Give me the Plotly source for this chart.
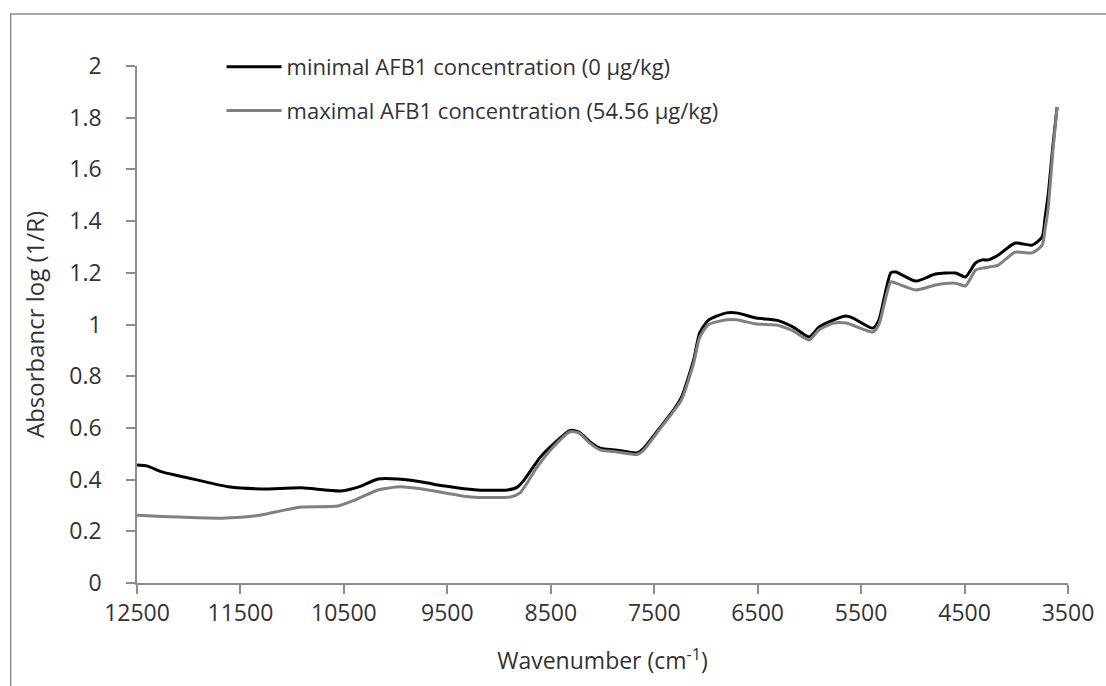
import plotly.graph_objects as go

# NIR spectra: wavenumber (cm-1) vs absorbance log(1/R)
wn_min = [12500, 12400, 12259, 12100, 11932, 11614, 11297, 10912, 10527, 10334,
          10170, 9978, 9689, 9593, 9208, 8919, 8823, 8755, 8601, 8467, 8313,
          8226, 8120, 8024, 7860, 7668, 7600, 7446, 7312, 7235, 7119, 7061,
          6975, 6801, 6705, 6513, 6320, 6156, 6002, 5906, 5771, 5646, 5578,
          5386, 5328, 5213, 5165, 4972, 4780, 4587, 4491, 4395, 4327, 4270,
          4173, 4010, 3846, 3750, 3721, 3692, 3644, 3606]
abs_min = [0.456, 0.452, 0.430, 0.415, 0.400, 0.372, 0.364, 0.368, 0.356, 0.375,
           0.402, 0.402, 0.387, 0.379, 0.360, 0.360, 0.371, 0.400, 0.487, 0.540, 0.590,
           0.584, 0.546, 0.522, 0.514, 0.503, 0.522, 0.600, 0.670, 0.720, 0.863, 0.967,
           1.017, 1.045, 1.045, 1.025, 1.017, 0.990, 0.952, 0.990, 1.017, 1.033, 1.025,
           0.986, 1.017, 1.200, 1.203, 1.168, 1.195, 1.199, 1.184, 1.238, 1.250, 1.250,
           1.269, 1.315, 1.307, 1.339, 1.416, 1.500, 1.700, 1.840]

wn_max = [12500, 12300, 12096, 11643, 11297, 11100, 10912, 10556, 10392, 10170,
          9949, 9689, 9275, 8890, 8794, 8630, 8467, 8313, 8226, 8120, 8024,
          7860, 7668, 7600, 7446, 7312, 7235, 7119, 7061, 6975, 6801, 6705,
          6513, 6320, 6156, 6002, 5906, 5771, 5646, 5386, 5328, 5213, 5165,
          4972, 4780, 4587, 4491, 4395, 4327, 4270, 4173, 4010, 3846, 3750,
          3721, 3692, 3644, 3606]
abs_max = [0.262, 0.258, 0.255, 0.251, 0.263, 0.280, 0.294, 0.298, 0.321, 0.360,
           0.372, 0.360, 0.333, 0.333, 0.350, 0.450, 0.530, 0.585, 0.580, 0.540, 0.515,
           0.507, 0.497, 0.515, 0.595, 0.665, 0.710, 0.850, 0.950, 1.000, 1.018, 1.018,
           1.002, 0.998, 0.975, 0.940, 0.980, 1.005, 1.006, 0.971, 1.000, 1.165, 1.160,
           1.133, 1.153, 1.160, 1.149, 1.210, 1.218, 1.222, 1.230, 1.280, 1.277, 1.307,
           1.370, 1.450, 1.680, 1.840]

x_ticks = [12500, 11500, 10500, 9500, 8500, 7500, 6500, 5500, 4500, 3500]
y_ticks = [0, 0.2, 0.4, 0.6, 0.8, 1, 1.2, 1.4, 1.6, 1.8, 2]

FONT = "Open Sans"
TEXT = "#333333"
AXIS = "#8c8c8c"

fig = go.Figure()
fig.add_trace(go.Scatter(
    x=wn_min, y=abs_min, mode="lines",
    name="minimal AFB1 concentration (0 µg/kg)", legendgroup="a",
    line=dict(color="#000000", width=3, shape="spline", smoothing=0.6),
))
fig.add_trace(go.Scatter(
    x=wn_max, y=abs_max, mode="lines",
    name="maximal AFB1 concentration (54.56 µg/kg)", legendgroup="b",
    line=dict(color="#808080", width=3, shape="spline", smoothing=0.6),
))

W, H = 1106, 686
L, R, T, B = 137, 33, 66, 103
pw, ph = W - L - R, H - T - B


def px(x):
    return (x - L) / pw


def py(y):
    return (H - B - y) / ph


fig.update_layout(
    width=W, height=H,
    margin=dict(l=L, r=R, t=T, b=B),
    paper_bgcolor="white", plot_bgcolor="white",
    font=dict(family=FONT, size=22, color=TEXT),
    showlegend=True,
    legend=dict(
        x=px(222), y=py(46), xanchor="left", yanchor="top",
        bgcolor="rgba(0,0,0,0)", font=dict(size=22, color=TEXT),
        tracegroupgap=12, itemwidth=55,
    ),
    xaxis=dict(
        range=[12500, 3500], autorange=False,
        tickvals=x_ticks, ticktext=[str(v) for v in x_ticks],
        showgrid=False, zeroline=False,
        showline=True, linecolor=AXIS, linewidth=1.5,
        ticks="outside", ticklen=9, tickwidth=1.5, tickcolor=AXIS,
        tickfont=dict(size=23, color=TEXT),
        title=dict(text="Wavenumber (cm<sup>-1</sup>)", font=dict(size=23, color=TEXT), standoff=26),
    ),
    yaxis=dict(
        range=[0, 2], autorange=False,
        tickvals=y_ticks, ticktext=["0", "0.2", "0.4", "0.6", "0.8", "1", "1.2", "1.4", "1.6", "1.8", "2"],
        showgrid=False, zeroline=False,
        showline=True, linecolor=AXIS, linewidth=1.5,
        ticks="outside", ticklen=9, tickwidth=1.5, tickcolor=AXIS,
        tickfont=dict(size=23, color=TEXT),
        ticklabelstandoff=20,
        title=dict(text="Absorbancr log (1/R)", font=dict(size=24, color=TEXT), standoff=18),
    ),
    shapes=[dict(
        type="rect", xref="paper", yref="paper",
        x0=px(10), x1=px(1116), y0=py(14), y1=py(720),
        line=dict(color="#8c8c8c", width=1.5), fillcolor="rgba(0,0,0,0)", layer="below",
    )],
)

fig.write_html("out.html")
